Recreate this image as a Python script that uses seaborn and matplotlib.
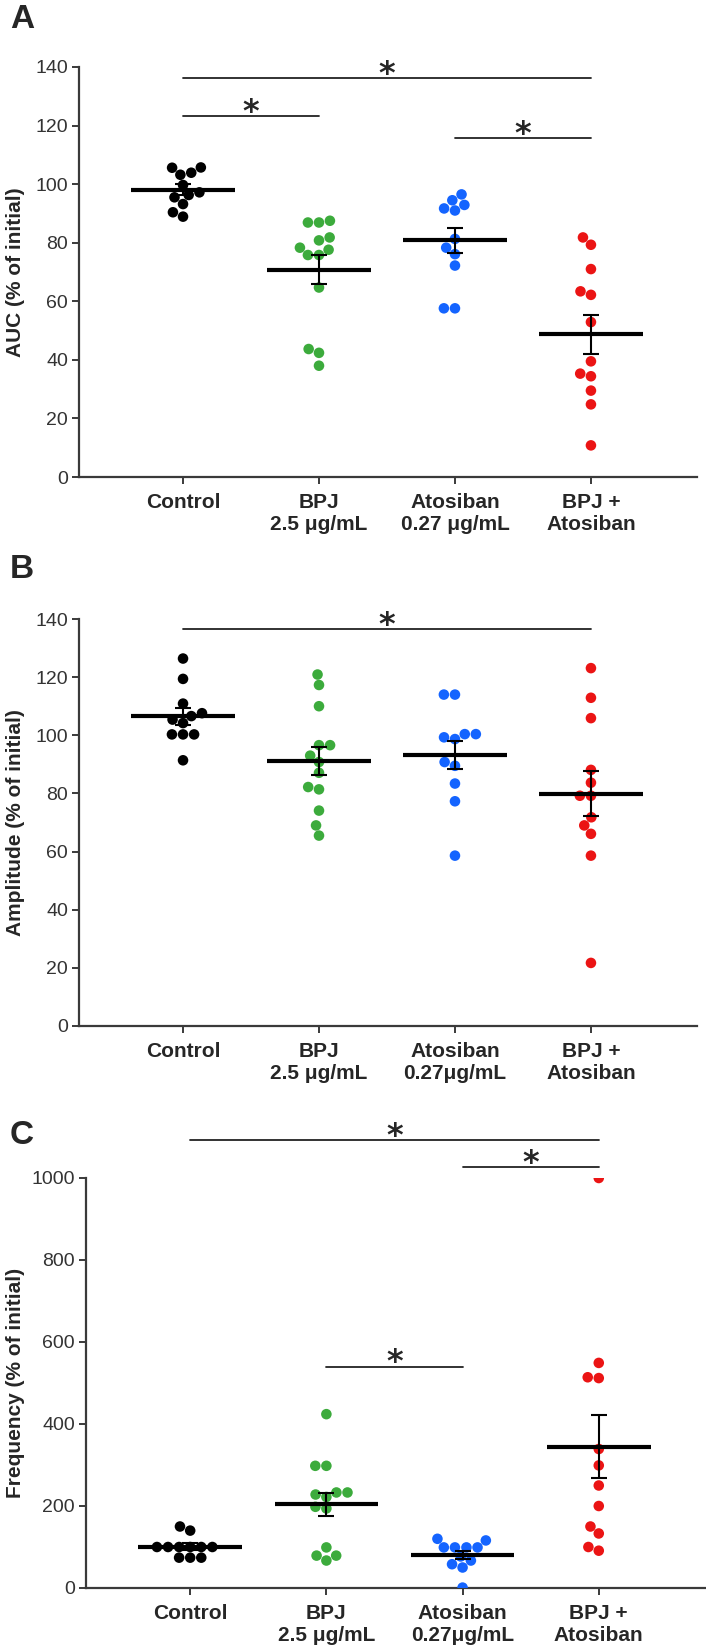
import numpy as np
import pandas as pd
import matplotlib
matplotlib.use("Agg")
import matplotlib.pyplot as plt
import seaborn as sns

sns.set_theme(style="ticks")
plt.rcParams['font.family'] = ['Liberation Sans', 'DejaVu Sans']

groups = ["Control", "BPJ", "Atosiban", "BPJ + Atosiban"]
colors = ["#000000", "#3cab3c", "#1464ff", "#eb1414"]

# Panel A - AUC (% of initial)
auc_control = [105.6, 103.9, 105.7, 103.2, 99.7, 96.3, 93.2, 95.5, 97.2, 90.4, 88.9]
auc_bpj = [86.9, 86.9, 87.5, 81.8, 80.8, 75.8, 75.8, 78.3, 77.6, 64.7, 42.4, 43.7, 38.0]
auc_atosiban = [94.5, 96.5, 92.9, 91.7, 91.0, 81.3, 78.3, 76.1, 72.2, 57.6, 57.6]
auc_combo = [81.8, 79.3, 71.0, 63.4, 62.2, 52.9, 39.5, 35.3, 34.4, 29.5, 24.8, 10.8]

# Panel B - Amplitude (% of initial)
amp_control = [126.4, 119.4, 110.9, 107.6, 106.6, 105.4, 104.2, 100.3, 100.3, 100.3, 91.4]
amp_bpj = [120.9, 117.3, 110.0, 96.6, 96.6, 93.0, 90.8, 87.1, 82.2, 81.4, 74.1, 69.0, 65.5]
amp_atosiban = [114.0, 114.0, 100.4, 100.4, 98.7, 99.3, 90.8, 89.5, 83.4, 77.3, 58.6]
amp_combo = [123.1, 112.9, 105.9, 88.1, 83.7, 79.2, 79.2, 71.8, 69.0, 66.1, 58.6, 21.7]

# Panel C - Frequency (% of initial)
freq_control = [150, 140, 100, 100, 100, 100, 100, 100, 74, 74, 74]
freq_bpj = [424, 298, 298, 233, 233, 228, 222, 194, 198, 99, 79, 79, 67]
freq_atosiban = [99, 116, 77, 99, 67, 120, 58, 99, 50, 99, 1]
freq_combo = [1000, 549, 514, 512, 339, 299, 250, 200, 150, 133, 100, 91]

labels_a = ["Control", "BPJ\n2.5 \u03bcg/mL", "Atosiban\n0.27 \u03bcg/mL", "BPJ +\nAtosiban"]
labels_bc = ["Control", "BPJ\n2.5 \u03bcg/mL", "Atosiban\n0.27\u03bcg/mL", "BPJ +\nAtosiban"]

# significance bars: (from group, to group, bar height)
sig_a = [(0, 3, 136.2), (0, 1, 123.3), (2, 3, 115.6)]
sig_b = [(0, 3, 136.6)]
sig_c = [(0, 3, 1092), (2, 3, 1027), (1, 2, 540)]

W, H = 706, 1652
fig = plt.figure(figsize=(W / 100, H / 100), dpi=100)


def panel(rect, series, ylabel, ylim, yticks, xlabels, sigs, label_x):
    ax = fig.add_axes(rect)
    df = pd.DataFrame({
        "group": np.repeat(groups, [len(s) for s in series]),
        "value": np.concatenate(series),
    })
    sns.swarmplot(data=df, x="group", y="value", hue="group", order=groups,
                  hue_order=groups, palette=colors, size=7.6, linewidth=0,
                  legend=False, ax=ax, zorder=3)

    # mean +/- SEM
    for i, s in enumerate(series):
        s = np.asarray(s, dtype=float)
        m = s.mean()
        sem = s.std(ddof=1) / np.sqrt(len(s))
        ax.hlines(m, i - 0.38, i + 0.38, color="black", lw=3, zorder=5)
        ax.errorbar(i, m, yerr=sem, color="black", lw=1.5, capsize=6,
                    capthick=1.5, zorder=5)

    for i, j, y in sigs:
        ax.plot([i, j], [y, y], color="#222222", lw=1.3, clip_on=False)
        ax.annotate("*", xy=((i + j) / 2, y), xytext=(0, -3.5),
                    textcoords="offset points", ha="center", va="baseline",
                    fontsize=23, fontweight="bold", family="DejaVu Sans",
                    annotation_clip=False)

    ax.set_xlim(-0.765, 3.78)
    ax.set_ylim(*ylim)
    ax.set_yticks(yticks)
    ax.set_xticks(range(4))
    ax.set_xticklabels(xlabels, fontsize=15, fontweight="bold")
    ax.set_yticklabels([str(t) for t in yticks], fontsize=14, color="#333333")
    ax.set_xlabel("")
    ax.set_ylabel(ylabel, fontsize=15, fontweight="bold")
    ax.yaxis.set_label_coords(label_x, 0.5)
    for side in ["top", "right"]:
        ax.spines[side].set_visible(False)
    for side in ["left", "bottom"]:
        ax.spines[side].set_color("#3a3a3a")
        ax.spines[side].set_linewidth(1.6)
    ax.tick_params(axis="both", length=5, width=1.4, color="#3a3a3a")
    ax.tick_params(axis="y", pad=3)
    ax.tick_params(axis="x", pad=6.5)
    return ax


panel([79 / W, 1 - 477 / H, 618 / W, 410 / H],
      [auc_control, auc_bpj, auc_atosiban, auc_combo],
      "AUC (% of initial)", (0, 140), list(range(0, 141, 20)),
      labels_a, sig_a, -0.087)

panel([79 / W, 1 - 1026 / H, 618 / W, 407 / H],
      [amp_control, amp_bpj, amp_atosiban, amp_combo],
      "Amplitude (% of initial)", (0, 140), list(range(0, 141, 20)),
      labels_bc, sig_b, -0.087)

panel([86 / W, 1 - 1588 / H, 619 / W, 410 / H],
      [freq_control, freq_bpj, freq_atosiban, freq_combo],
      "Frequency (% of initial)", (0, 1000), list(range(0, 1001, 200)),
      labels_bc, sig_c, -0.099)

for letter, base in [("A", 28), ("B", 578), ("C", 1144)]:
    fig.text(10 / W, 1 - base / H, letter, fontsize=24, fontweight="bold",
             va="baseline", ha="left")

fig.savefig("out.png", dpi=100)
